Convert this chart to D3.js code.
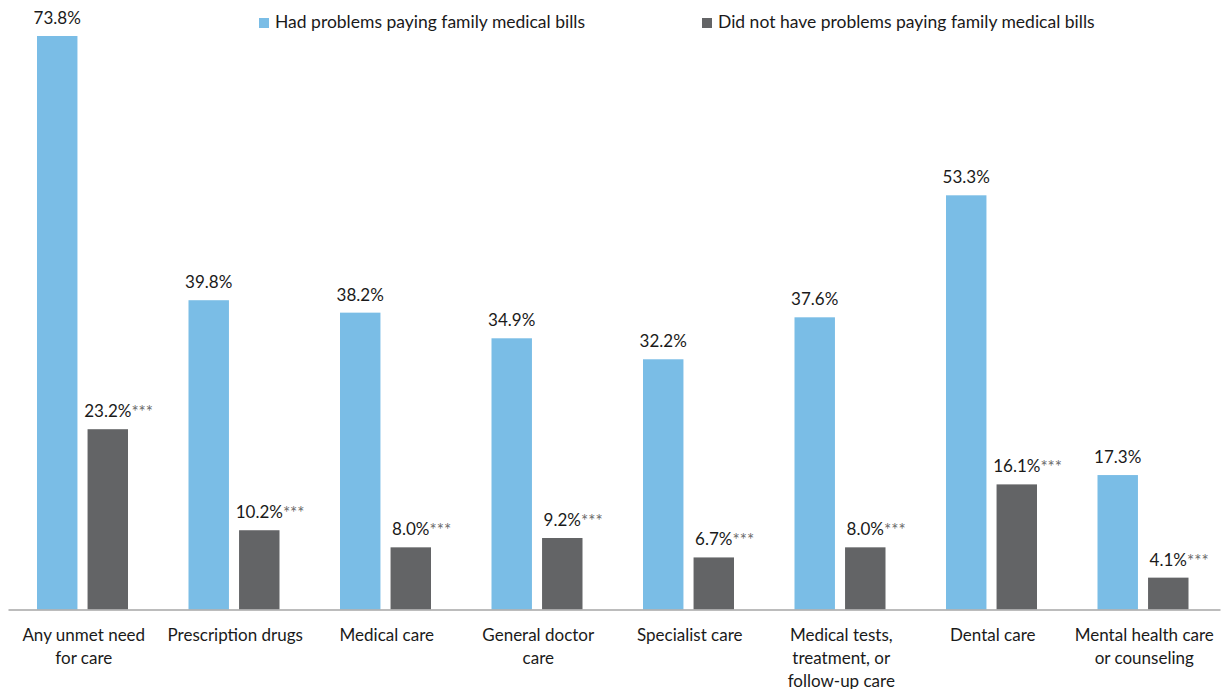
<!DOCTYPE html>
<html>
<head>
	<meta charset="utf-8">
	<title>Unmet need for care</title>
	<script src="https://cdn.jsdelivr.net/npm/d3@7"></script>
	<style type="text/css">
		body { margin: 0; background: #fff; }
		text { font-family: Lato, "Open Sans", sans-serif; fill: #1a1a1a; }
	</style>
</head>
<body>
	<script type="text/javascript">
		// Data
		var categories = ["Any unmet need for care", "Prescription drugs", "Medical care",
			"General doctor care", "Specialist care", "Medical tests, treatment, or follow-up care",
			"Dental care", "Mental health care or counseling"];
		var tickLabels = [["Any unmet need", "for care"], ["Prescription drugs"], ["Medical care"],
			["General doctor", "care"], ["Specialist care"], ["Medical tests,", "treatment, or", "follow-up care"],
			["Dental care"], ["Mental health care", "or counseling"]];
		var seriesNames = ["Had problems paying family medical bills", "Did not have problems paying family medical bills"];
		var hadProblems = [73.8, 39.8, 38.2, 34.9, 32.2, 37.6, 53.3, 17.3];
		var noProblems = [23.2, 10.2, 8.0, 9.2, 6.7, 8.0, 16.1, 4.1];
		var significance = ["***", "***", "***", "***", "***", "***", "***", "***"];

		var width = 1225;
		var height = 689;
		var colors = ["#7abde6", "#636466"];

		var svg = d3.select("body").append("svg")
			.attr("width", width)
			.attr("height", height);

		// scales
		var x0 = d3.scaleBand()
			.domain(categories)
			.range([8, 1220]);
		var x1 = d3.scaleBand()
			.domain([0, 1])
			.range([29, 120])
			.paddingInner(0.2);
		var y = d3.scaleLinear()
			.domain([0, 73.8])
			.range([609.5, 36]);

		// bars
		var groups = svg.selectAll("g.group")
			.data(categories)
			.enter()
			.append("g")
			  .attr("class", "group")
			  .attr("transform", function(d) { return "translate(" + x0(d) + ",0)"; });

		groups.each(function(cat, i) {
			var g = d3.select(this);
			var vals = [hadProblems[i], noProblems[i]];
			vals.forEach(function(v, s) {
				g.append("rect")
				  .attr("x", x1(s))
				  .attr("y", y(v))
				  .attr("width", x1.bandwidth())
				  .attr("height", y(0) - y(v))
				  .attr("fill", colors[s]);

				var cx = x1(s) + x1.bandwidth() / 2;
				var label = g.append("text")
				  .attr("y", y(v) - 12)
				  .style("font-size", "17px");
				label.append("tspan").text(v.toFixed(1) + "%");
				var w = label.node().getComputedTextLength();
				label.attr("x", cx - w / 2);
				if (s == 1) {
					label.append("tspan")
					  .attr("dy", 1)
					  .style("font-size", "17px")
					  .style("fill", "#6a6a6a")
					  .text(significance[i]);
				}
			});
		});

		// x axis
		var axis = svg.append("g")
			.attr("transform", "translate(0," + y(0) + ")")
			.call(d3.axisBottom(x0).tickSize(0).tickSizeOuter(0));
		axis.select(".domain")
			.attr("stroke", "#a6a6a6")
			.attr("stroke-width", 1.5);
		axis.selectAll(".tick text").remove();
		axis.selectAll(".tick").each(function(d, i) {
			var t = d3.select(this).append("text")
			  .attr("text-anchor", "middle")
			  .style("font-size", "17px")
			  .style("fill", "#1a1a1a");
			tickLabels[i].forEach(function(line, k) {
				t.append("tspan")
				  .attr("x", 0)
				  .attr("y", 31 + k * 23)
				  .text(line);
			});
		});

		// legend
		var legendX = [259, 702];
		seriesNames.forEach(function(name, s) {
			svg.append("rect")
			  .attr("x", legendX[s])
			  .attr("y", 18)
			  .attr("width", 10)
			  .attr("height", 10)
			  .attr("fill", colors[s]);
			svg.append("text")
			  .attr("x", legendX[s] + 16)
			  .attr("y", 28)
			  .style("font-size", "17.5px")
			  .text(name);
		});
	</script>
</body>
</html>
